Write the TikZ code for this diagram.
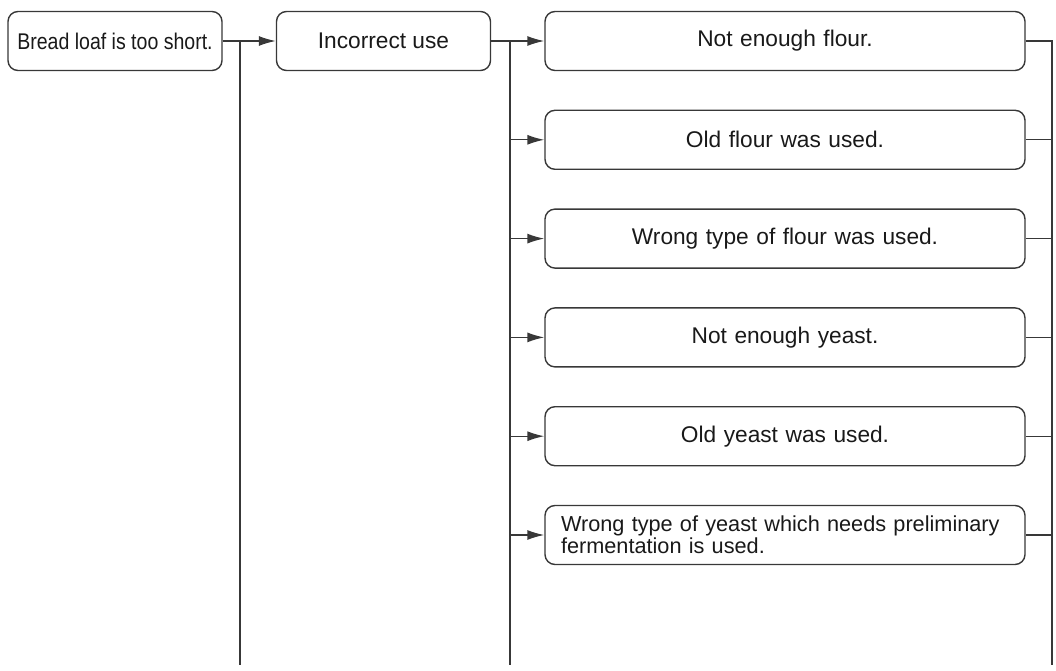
\documentclass[tikz,border=0pt]{standalone}
\usepackage{fontspec}
\setmainfont{Liberation Sans}
\newfontfamily\narrowsans[FakeStretch=0.86]{Liberation Sans}
\usetikzlibrary{arrows.meta}

\begin{document}
\begin{tikzpicture}[x=1pt, y=1pt, node distance=98.8pt, line width=1.4pt, color=black!78,
  >={Latex[length=17pt,width=10pt]},
  block/.style={draw, rounded corners=10pt, minimum height=59pt, text=black!90, font=\fontsize{22.7}{24}\selectfont},
  topbox/.style={block, minimum width=214pt},
  causebox/.style={block, text width=448pt, inner xsep=16pt, align=center}]
\useasboundingbox (0,0) rectangle (1056,670);

\node[topbox] (loaf) at (115,629) {\narrowsans Bread loaf is too short.};
\node[topbox] (incorrect) at (383.5,629) {Incorrect use};
\node[causebox] (flour) at (785,629) {Not enough flour.};
\node[causebox] (oldflour) [below of=flour] {Old flour was used.};
\node[causebox] (typeflour) [below of=oldflour] {Wrong type of flour was used.};
\node[causebox] (yeast) [below of=typeflour] {Not enough yeast.};
\node[causebox] (oldyeast) [below of=yeast] {Old yeast was used.};
\node[causebox, align=left, font=\fontsize{21.7}{22}\selectfont] (typeyeast) [below of=oldyeast] {Wrong type of yeast which needs preliminary\\fermentation is used.};

\coordinate (trunkA) at (240,5);
\coordinate (trunkB) at (510,5);
\coordinate (trunkC) at (1052,5);

\draw [->] (loaf) -- (incorrect);
\draw (loaf -| trunkA) -- (trunkA);
\draw [->] (incorrect) -- (flour);
\draw (incorrect -| trunkB) -- (trunkB);
\draw [->] (oldflour -| trunkB) -- (oldflour);
\draw [->] (typeflour -| trunkB) -- (typeflour);
\draw [->] (yeast -| trunkB) -- (yeast);
\draw [->] (oldyeast -| trunkB) -- (oldyeast);
\draw [->] (typeyeast -| trunkB) -- (typeyeast);
\draw (flour) -| (trunkC);
\draw (oldflour) -- (oldflour -| trunkC);
\draw (typeflour) -- (typeflour -| trunkC);
\draw (yeast) -- (yeast -| trunkC);
\draw (oldyeast) -- (oldyeast -| trunkC);
\draw (typeyeast) -- (typeyeast -| trunkC);
\end{tikzpicture}
\end{document}
